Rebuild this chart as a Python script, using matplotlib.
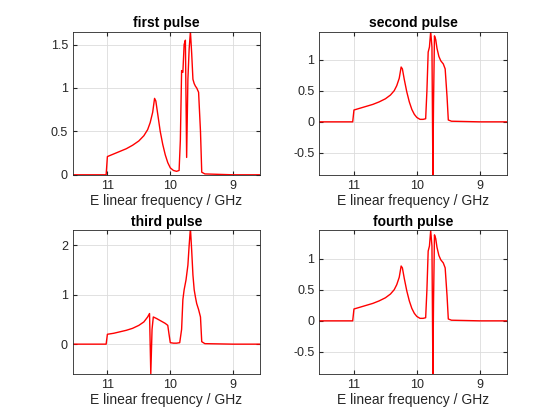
import matplotlib
matplotlib.use("Agg")
import matplotlib.pyplot as plt
plt.rcParams['font.family'] = ['Liberation Sans', 'DejaVu Sans']

titles = ["first pulse", "second pulse", "third pulse", "fourth pulse"]
xlabel = "E linear frequency / GHz"

f1 = [12.0, 11.02, 11.0, 10.9, 10.8, 10.7, 10.6, 10.5, 10.42, 10.36, 10.32, 10.28, 10.25, 10.23, 10.2, 10.16, 10.12, 10.08, 10.04, 10.0, 9.95, 9.9, 9.86, 9.84, 9.82, 9.8, 9.78, 9.76, 9.74, 9.72, 9.7, 9.68, 9.66, 9.64, 9.62, 9.6, 9.58, 9.55, 9.52, 9.5, 9.45, 9.0, 8.5]
v1 = [0.0, 0.0, 0.21, 0.24, 0.27, 0.30, 0.34, 0.39, 0.45, 0.52, 0.60, 0.72, 0.88, 0.85, 0.7, 0.5, 0.35, 0.23, 0.14, 0.08, 0.05, 0.04, 0.05, 0.4, 1.2, 1.18, 1.5, 1.55, 0.2, 1.1, 1.45, 1.65, 1.4, 1.1, 1.05, 1.02, 1.0, 0.95, 0.5, 0.03, 0.01, 0.0, 0.0]

f2 = [12.0, 11.02, 11.0, 10.9, 10.8, 10.7, 10.6, 10.5, 10.42, 10.36, 10.32, 10.28, 10.25, 10.23, 10.2, 10.16, 10.12, 10.08, 10.04, 10.0, 9.95, 9.9, 9.86, 9.84, 9.82, 9.8, 9.78, 9.76, 9.745, 9.735, 9.72, 9.7, 9.68, 9.65, 9.62, 9.58, 9.55, 9.52, 9.5, 9.45, 9.0, 8.5]
v2 = [0.0, 0.0, 0.19, 0.22, 0.25, 0.28, 0.32, 0.37, 0.43, 0.50, 0.58, 0.70, 0.88, 0.85, 0.68, 0.48, 0.32, 0.20, 0.12, 0.07, 0.04, 0.04, 0.05, 0.5, 1.12, 1.2, 1.45, 1.2, -0.85, 0.3, 1.38, 1.32, 1.18, 1.05, 0.98, 0.93, 0.85, 0.4, 0.03, 0.01, 0.0, 0.0]

f3 = [12.0, 11.02, 11.0, 10.9, 10.8, 10.7, 10.6, 10.5, 10.42, 10.36, 10.33, 10.31, 10.29, 10.27, 10.22, 10.15, 10.08, 10.04, 10.02, 10.0, 9.95, 9.9, 9.85, 9.82, 9.8, 9.78, 9.75, 9.72, 9.7, 9.68, 9.66, 9.64, 9.62, 9.6, 9.58, 9.55, 9.52, 9.5, 9.45, 9.0, 8.5]
v3 = [0.0, 0.0, 0.2, 0.22, 0.25, 0.28, 0.32, 0.38, 0.45, 0.55, 0.62, -0.6, 0.3, 0.55, 0.52, 0.47, 0.42, 0.38, 0.2, 0.03, 0.02, 0.02, 0.03, 0.3, 0.9, 1.1, 1.3, 1.6, 2.0, 2.35, 1.9, 1.4, 1.1, 0.95, 0.82, 0.7, 0.55, 0.05, 0.01, 0.0, 0.0]

freqs = [f1, f2, f3, f2]
vals = [v1, v2, v3, v2]
ylims = [(0, 1.65), (-0.85, 1.45), (-0.6, 2.3), (-0.85, 1.45)]
yticks = [[0, 0.5, 1, 1.5], [-0.5, 0, 0.5, 1], [0, 1, 2], [-0.5, 0, 0.5, 1]]

fig = plt.figure(figsize=(5.6, 4.2), dpi=100)
pos = [(0.13, 0.5838), (0.5703, 0.5838), (0.13, 0.11), (0.5703, 0.11)]
for i in range(4):
    ax = fig.add_axes([pos[i][0], pos[i][1], 0.3347, 0.3412])
    ax.plot(freqs[i], vals[i], color="red", lw=1)
    ax.set_xlim(11.55, 8.57)
    ax.set_ylim(*ylims[i])
    ax.set_xticks([11, 10, 9])
    ax.set_xticklabels(["11", "10", "9"])
    ax.set_yticks(yticks[i])
    ax.set_yticklabels([("%g" % t) for t in yticks[i]])
    ax.grid(True, color="#dcdcdc", lw=0.6)
    ax.set_axisbelow(True)
    ax.tick_params(direction="in", labelsize=9, length=3, colors="#262626", top=True, right=True, labeltop=False, labelright=False)
    for s in ax.spines.values():
        s.set_color("#262626"); s.set_linewidth(0.6)
    ax.set_xlabel(xlabel, fontsize=10, color="#262626", labelpad=2)
    ax.set_title(titles[i], fontsize=10, fontweight="bold", pad=3)

fig.savefig("out.png", dpi=100)
